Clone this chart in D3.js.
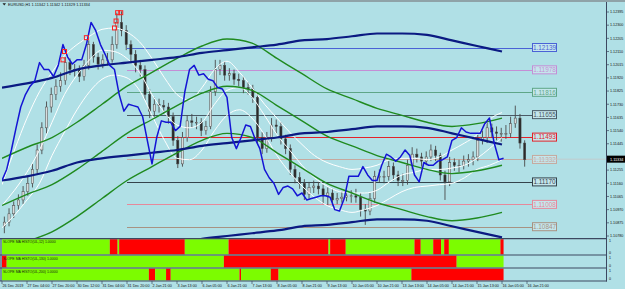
<!DOCTYPE html>
<html>
<head>
<meta charset="utf-8">
<script src="https://cdn.jsdelivr.net/npm/d3@7"></script>
<style>
  html, body { margin: 0; padding: 0; background: #b0e0e6; }
  svg { display: block; font-family: "Liberation Sans", Arial, sans-serif; }
</style>
</head>
<body>
<script>
const W = 625, H = 289;

// ---- data ----
// candles, one per 3 H1 bars, starting 26 Dec 2019 12:00
const candleOpen = [1.1085,1.1088,1.1094,1.1100,1.1104,1.1110,1.1116,1.1126,1.1140,1.1156,
1.1171,1.1180,1.1186,1.1190,1.1203,1.1198,1.1198,1.1193,1.1201,1.1216,
1.1207,1.1202,1.1205,1.1205,1.1216,1.1232,1.1226,1.1216,1.1209,1.1201,
1.1198,1.1180,1.1168,1.1173,1.1172,1.1171,1.1164,1.1147,1.1130,1.1149,
1.1161,1.1160,1.1160,1.1154,1.1157,1.1182,1.1198,1.1201,1.1194,1.1195,
1.1191,1.1190,1.1185,1.1184,1.1178,1.1149,1.1141,1.1149,1.1158,1.1157,
1.1148,1.1141,1.1126,1.1120,1.1116,1.1108,1.1113,1.1114,1.1112,1.1107,
1.1109,1.1104,1.1105,1.1106,1.1107,1.1107,1.1106,1.1097,1.1096,1.1105,
1.1121,1.1121,1.1121,1.1128,1.1122,1.1118,1.1118,1.1129,1.1137,1.1135,
1.1132,1.1135,1.1140,1.1136,1.1122,1.1117,1.1131,1.1129,1.1129,1.1132,
1.1133,1.1135,1.1147,1.1149,1.1156,1.1153,1.1152,1.1152,1.1152,1.1159,
1.1163,1.1145];
const candleHigh = [1.1092,1.1098,1.1103,1.1108,1.1114,1.1121,1.1130,1.1144,1.1160,1.1175,
1.1185,1.1191,1.1196,1.1207,1.1206,1.1202,1.1201,1.1205,1.1219,1.1218,
1.1210,1.1209,1.1210,1.1222,1.1239,1.1240,1.1230,1.1219,1.1212,1.1205,
1.1201,1.1184,1.1178,1.1177,1.1176,1.1174,1.1167,1.1150,1.1153,1.1165,
1.1166,1.1164,1.1163,1.1161,1.1186,1.1205,1.1205,1.1204,1.1199,1.1198,
1.1195,1.1193,1.1189,1.1187,1.1181,1.1153,1.1153,1.1163,1.1162,1.1160,
1.1151,1.1144,1.1129,1.1124,1.1119,1.1117,1.1118,1.1117,1.1115,1.1113,
1.1112,1.1109,1.1110,1.1111,1.1111,1.1112,1.1109,1.1101,1.1109,1.1125,
1.1126,1.1125,1.1132,1.1131,1.1125,1.1123,1.1133,1.1142,1.1141,1.1138,
1.1139,1.1144,1.1143,1.1138,1.1125,1.1135,1.1134,1.1133,1.1136,1.1137,
1.1139,1.1151,1.1154,1.1160,1.1159,1.1157,1.1156,1.1158,1.1164,1.1172,
1.1166,1.1147];
const candleLow = [1.1080,1.1085,1.1091,1.1097,1.1101,1.1107,1.1113,1.1123,1.1137,1.1152,
1.1167,1.1176,1.1182,1.1187,1.1194,1.1193,1.1189,1.1190,1.1198,1.1203,
1.1198,1.1199,1.1201,1.1203,1.1213,1.1222,1.1212,1.1204,1.1196,1.1193,
1.1176,1.1163,1.1164,1.1167,1.1166,1.1159,1.1143,1.1127,1.1128,1.1146,
1.1156,1.1155,1.1150,1.1151,1.1155,1.1179,1.1194,1.1190,1.1190,1.1187,
1.1186,1.1181,1.1180,1.1174,1.1145,1.1137,1.1138,1.1146,1.1152,1.1144,
1.1137,1.1122,1.1116,1.1112,1.1104,1.1105,1.1109,1.1108,1.1101,1.1100,
1.1100,1.1101,1.1102,1.1103,1.1102,1.1102,1.1092,1.1086,1.1093,1.1102,
1.1117,1.1116,1.1118,1.1118,1.1114,1.1114,1.1115,1.1126,1.1131,1.1128,
1.1129,1.1132,1.1132,1.1118,1.1104,1.1114,1.1125,1.1124,1.1126,1.1128,
1.1129,1.1132,1.1144,1.1145,1.1149,1.1147,1.1146,1.1148,1.1149,1.1156,
1.1141,1.1128];
const candleClose = [1.1088,1.1094,1.1100,1.1104,1.1110,1.1116,1.1126,1.1140,1.1156,1.1171,
1.1180,1.1186,1.1190,1.1203,1.1198,1.1198,1.1193,1.1201,1.1216,1.1207,
1.1202,1.1205,1.1205,1.1216,1.1232,1.1226,1.1216,1.1209,1.1201,1.1198,
1.1180,1.1168,1.1173,1.1172,1.1171,1.1164,1.1147,1.1130,1.1149,1.1161,
1.1160,1.1160,1.1154,1.1157,1.1182,1.1198,1.1201,1.1194,1.1195,1.1191,
1.1190,1.1185,1.1184,1.1178,1.1149,1.1141,1.1149,1.1158,1.1157,1.1148,
1.1141,1.1126,1.1120,1.1116,1.1108,1.1113,1.1114,1.1112,1.1107,1.1109,
1.1104,1.1105,1.1106,1.1107,1.1107,1.1106,1.1097,1.1096,1.1105,1.1121,
1.1121,1.1121,1.1128,1.1122,1.1118,1.1118,1.1129,1.1137,1.1135,1.1132,
1.1135,1.1140,1.1136,1.1122,1.1117,1.1131,1.1129,1.1129,1.1132,1.1133,
1.1135,1.1147,1.1149,1.1156,1.1153,1.1152,1.1152,1.1152,1.1159,1.1163,
1.1145,1.1133];

// blue line, every 3 bars
const bluePrice = [1.1118,1.1126,1.1140,1.1156,1.1171,1.1180,1.1186,1.1190,1.1203,1.1198,
1.1198,1.1193,1.1201,1.1216,1.1207,1.1202,1.1205,1.1205,1.1216,1.1232,
1.1226,1.1216,1.1209,1.1201,1.1198,1.1180,1.1168,1.1173,1.1172,1.1171,
1.1164,1.1147,1.1130,1.1149,1.1161,1.1160,1.1160,1.1154,1.1157,1.1182,
1.1198,1.1201,1.1194,1.1195,1.1191,1.1190,1.1185,1.1184,1.1178,1.1149,
1.1141,1.1149,1.1158,1.1157,1.1148,1.1141,1.1126,1.1120,1.1116,1.1108,
1.1113,1.1114,1.1112,1.1107,1.1109,1.1104,1.1105,1.1106,1.1107,1.1107,
1.1106,1.1097,1.1096,1.1105,1.1121,1.1121,1.1121,1.1128,1.1122,1.1118,
1.1118,1.1129,1.1137,1.1135,1.1132,1.1135,1.1140,1.1136,1.1122,1.1117,
1.1131,1.1129,1.1129,1.1132,1.1133,1.1135,1.1147,1.1149,1.1156,1.1153,
1.1152,1.1152,1.1152,1.1159,1.1163,1.1145,1.1133,1.1134];

// navy envelope, every 16 bars
const navyUpper = [1.1185,1.1188,1.1192,1.1198,1.1201,1.1203,1.1205,1.1207,1.1210,1.1212,1.1214,1.1216,1.1219,1.1220,1.1222,1.1224,1.1224,1.1223,1.1219,1.1215,1.1211];
const navyMid   = [1.1118,1.1121,1.1125,1.1131,1.1134,1.1136,1.1138,1.1140,1.1143,1.1145,1.1147,1.1149,1.1152,1.1153,1.1155,1.1157,1.1157,1.1156,1.1152,1.1148,1.1144];
const navyLower = [1.1051,1.1054,1.1058,1.1064,1.1067,1.1069,1.1071,1.1073,1.1076,1.1078,1.1080,1.1082,1.1085,1.1086,1.1088,1.1090,1.1090,1.1089,1.1085,1.1081,1.1077];

// green envelope, every 16 bars
const greenUpper = [1.1134,1.1142,1.1149,1.1160,1.1173,1.1186,1.1196,1.1206,1.1215,1.1220,1.1217,1.1206,1.1195,1.1184,1.1177,1.1170,1.1165,1.1160,1.1157,1.1159,1.1163];
const greenMid   = [1.1100,1.1108,1.1115,1.1126,1.1139,1.1152,1.1162,1.1172,1.1181,1.1186,1.1183,1.1172,1.1161,1.1150,1.1143,1.1136,1.1131,1.1126,1.1123,1.1125,1.1129];
const greenLower = [1.1066,1.1074,1.1081,1.1092,1.1105,1.1118,1.1128,1.1138,1.1147,1.1152,1.1149,1.1138,1.1127,1.1116,1.1109,1.1102,1.1097,1.1092,1.1089,1.1091,1.1095];

// white bands, every 8 bars
const bandUpper = [1.1115,1.1140,1.1163,1.1182,1.1196,1.1208,1.1216,1.1222,1.1227,1.1228,
1.1225,1.1218,1.1206,1.1192,1.1180,1.1176,1.1185,1.1198,1.1204,1.1196,
1.1185,1.1173,1.1163,1.1153,1.1144,1.1136,1.1131,1.1128,1.1126,1.1127,
1.1129,1.1133,1.1134,1.1134,1.1133,1.1135,1.1140,1.1145,1.1151,1.1162,1.1167];
const bandMid = [1.1100,1.1111,1.1124,1.1140,1.1160,1.1180,1.1194,1.1205,1.1212,1.1211,
1.1206,1.1196,1.1180,1.1167,1.1158,1.1156,1.1160,1.1173,1.1183,1.1185,
1.1178,1.1165,1.1151,1.1140,1.1129,1.1120,1.1114,1.1110,1.1109,1.1109,
1.1111,1.1117,1.1122,1.1124,1.1126,1.1126,1.1127,1.1129,1.1134,1.1141,1.1149];
const bandLower = [1.1084,1.1093,1.1104,1.1116,1.1136,1.1153,1.1169,1.1182,1.1191,1.1194,
1.1192,1.1183,1.1165,1.1147,1.1134,1.1133,1.1140,1.1154,1.1165,1.1169,
1.1163,1.1151,1.1136,1.1124,1.1114,1.1106,1.1100,1.1097,1.1095,1.1097,
1.1100,1.1105,1.1110,1.1113,1.1114,1.1115,1.1116,1.1120,1.1126,1.1129,1.1133];

// red square signals: bar index, price
const signalBars = [39, 40, 54, 72, 73, 74, 76];
const signalPrices = [1.1205, 1.1211, 1.1221, 1.1228, 1.1233, 1.1239, 1.1239];

// horizontal levels
const levelPrices = [1.12139, 1.11978, 1.11816, 1.11655, 1.11493, 1.11332, 1.11170, 1.11008, 1.10847];
const levelColors = ["#4a62d6", "#c48ed6", "#5ea687", "#4a5a66", "#e4222a", "#c6a89e", "#34434c", "#e6899a", "#a89282"];

// 1.11350 sits under the last-price box, so it is not listed
const priceTicks = [1.12395,1.12300,1.12205,1.12110,1.12015,1.11920,1.11825,1.11730,1.11635,1.11540,1.11445,1.11255,1.11160,1.11065,1.10970,1.10875,1.10780];
const lastPrice = 1.11334;

const timeLabels = ["26 Dec 2019","27 Dec 04:00","27 Dec 20:00","30 Dec 12:00","31 Dec 04:00","31 Dec 20:00","2 Jan 21:00","3 Jan 13:00","6 Jan 05:00","6 Jan 21:00","7 Jan 13:00","8 Jan 05:00","8 Jan 21:00","9 Jan 13:00","10 Jan 05:00","10 Jan 21:00","13 Jan 13:00","14 Jan 05:00","14 Jan 21:00","15 Jan 13:00","16 Jan 05:00","16 Jan 21:00"];

// histogram panels: [number of bars, 1 = up (green) / 0 = down (red)]
const slope12 = [[69,1],[5,0],[1,1],[42,0],[28,1],[64,0],[1,1],[10,0],[44,1],[4,0],[8,1],[5,0],[2,1],[3,0],[33,1],[2,0]];
const slope130 = [[3,0],[139,1],[149,0],[30,1]];
const slope200 = [[94,1],[4,0],[7,1],[3,0],[44,1],[1,0],[19,1],[5,0],[85,1],[59,0]];
const panelNames = ["SLOPE MA HISTO(UL,12) 1.0000", "SLOPE MA HISTO(UL,130) 1.0000", "SLOPE MA HISTO(UL,200) 1.0000"];

// ---- chart ----
const svg = d3.select("body").append("svg")
    .attr("width", W)
    .attr("height", H);

svg.append("rect").attr("width", W).attr("height", H).attr("fill", "#b0e0e6");
svg.append("rect").attr("width", W).attr("height", 2).attr("fill", "#8fa3a8");

// bar index -> px, price -> px
const x = d3.scaleLinear().domain([0, 400]).range([2, 2 + 400 * 1.5625]);
const y = d3.scaleLinear().domain([1.10780, 1.12395]).range([236, 12]);

svg.append("clipPath").attr("id", "mainClip")
  .append("rect").attr("x", 2).attr("y", 2).attr("width", 604).attr("height", 236);
const main = svg.append("g").attr("clip-path", "url(#mainClip)");

// level lines
levelPrices.forEach((p, i) => {
  const yy = Math.round(y(p)) + 0.5;
  main.append("line")
      .attr("x1", x(80)).attr("x2", 532)
      .attr("y1", yy).attr("y2", yy)
      .attr("stroke", levelColors[i]).attr("stroke-width", 1);
});

// candles
const candleData = candleOpen.map((o, i) => ({
  bar: 3 * i + 1.5, o, h: candleHigh[i], l: candleLow[i], c: candleClose[i]
}));
main.selectAll("line.wick").data(candleData).enter().append("line")
    .attr("class", "wick")
    .attr("x1", d => x(d.bar)).attr("x2", d => x(d.bar))
    .attr("y1", d => y(d.h)).attr("y2", d => y(d.l))
    .attr("stroke", "#4a4a4a").attr("stroke-width", 0.9);
main.selectAll("rect.body").data(candleData).enter().append("rect")
    .attr("class", "body")
    .attr("x", d => x(d.bar) - 1.1)
    .attr("width", 2.2)
    .attr("y", d => y(Math.max(d.o, d.c)))
    .attr("height", d => Math.max(0.8, Math.abs(y(d.o) - y(d.c))))
    .attr("fill", d => d.c >= d.o ? "#d8dcdc" : "#2a2a2a")
    .attr("stroke", "#4a4a4a").attr("stroke-width", 0.5);

function drawSeries(values, step, color, width, curve) {
  const line = d3.line()
      .x((d, i) => x(i * step))
      .y(d => y(d))
      .curve(curve);
  main.append("path")
      .datum(values)
      .attr("d", line)
      .attr("fill", "none")
      .attr("stroke", color)
      .attr("stroke-width", width)
      .attr("stroke-linejoin", "round");
}

// white bands
[bandUpper, bandMid, bandLower].forEach(s => drawSeries(s, 8, "#ffffff", 1, d3.curveMonotoneX));
// green envelope
[greenUpper, greenMid, greenLower].forEach(s => drawSeries(s, 16, "#1f8a1f", 1.4, d3.curveMonotoneX));
// navy envelope
[navyUpper, navyMid, navyLower].forEach(s => drawSeries(s, 16, "#0b1a82", 2.2, d3.curveMonotoneX));
// blue line
drawSeries(bluePrice, 3, "#1414d4", 1.5, d3.curveLinear);

// red squares
main.selectAll("rect.sig").data(signalBars).enter().append("rect")
    .attr("class", "sig")
    .attr("x", d => x(d) - 2).attr("y", (d, i) => y(signalPrices[i]) - 2)
    .attr("width", 4).attr("height", 4)
    .attr("fill", "none").attr("stroke", "#ff2020").attr("stroke-width", 1);

// level labels
levelPrices.forEach((p, i) => {
  const yy = y(p);
  svg.append("rect")
      .attr("x", 532.5).attr("y", yy - 4)
      .attr("width", 24).attr("height", 8)
      .attr("fill", "#c4e6ec")
      .attr("stroke", levelColors[i]).attr("stroke-width", 1);
  svg.append("text")
      .attr("x", 544.5).attr("y", yy + 2.3)
      .attr("text-anchor", "middle")
      .attr("font-size", 6.4)
      .attr("fill", levelColors[i])
      .text(d3.format(".5f")(p));
});

// last price line
svg.append("line")
    .attr("x1", 527).attr("x2", 606)
    .attr("y1", y(lastPrice)).attr("y2", y(lastPrice))
    .attr("stroke", "#c8c8c8").attr("stroke-width", 0.8);

// price axis
const axisColor = "#3c4860";
svg.append("line")
    .attr("x1", 606.5).attr("x2", 606.5).attr("y1", 2).attr("y2", 281.5)
    .attr("stroke", axisColor).attr("stroke-width", 1);
const yTicks = svg.append("g");
priceTicks.forEach(p => {
  yTicks.append("line")
      .attr("x1", 606.5).attr("x2", 609).attr("y1", y(p)).attr("y2", y(p))
      .attr("stroke", axisColor).attr("stroke-width", 0.7);
  yTicks.append("text")
      .attr("x", 610).attr("y", y(p) + 1.3)
      .attr("font-size", 3.7).attr("fill", "#111")
      .text(d3.format(".5f")(p));
});
svg.append("rect")
    .attr("x", 607).attr("y", y(lastPrice) - 3.5)
    .attr("width", 18).attr("height", 7).attr("fill", "#000");
svg.append("text")
    .attr("x", 610).attr("y", y(lastPrice) + 1.4)
    .attr("font-size", 3.8).attr("fill", "#fff")
    .text(d3.format(".5f")(lastPrice));

// title
svg.append("path").attr("d", "M2.5,3.2 L6,3.2 L4.25,5.6 Z").attr("fill", "#222");
svg.append("text")
    .attr("x", 8).attr("y", 5.8)
    .attr("font-size", 3.9).attr("fill", "#111")
    .text("EURUSD,H1  1.11342 1.11342 1.11329 1.11334");

// indicator panels
const panels = [
  { top: 239.2, bottom: 254.4, runs: slope12 },
  { top: 255.6, bottom: 267.4, runs: slope130 },
  { top: 268.6, bottom: 280.4, runs: slope200 }
];
panels.forEach((pn, k) => {
  let start = 0;
  const segs = pn.runs.map(([len, up]) => {
    const s = { start, end: start + len, up };
    start += len;
    return s;
  });
  svg.append("g").selectAll("rect").data(segs).enter().append("rect")
      .attr("x", d => x(d.start))
      .attr("width", d => x(d.end) - x(d.start))
      .attr("y", pn.top)
      .attr("height", pn.bottom - pn.top)
      .attr("fill", d => d.up ? "#7cfc00" : "#ff0000");
  svg.append("text")
      .attr("x", 3).attr("y", pn.top + 4)
      .attr("font-size", 3.5).attr("fill", "#1a1a1a")
      .text(panelNames[k]);
  svg.append("text")
      .attr("x", 609).attr("y", pn.top + 3)
      .attr("font-size", 3.6).attr("fill", "#111").text("1");
  svg.append("text")
      .attr("x", 609).attr("y", pn.bottom - 0.5)
      .attr("font-size", 3.6).attr("fill", "#111").text("0");
});

// separators
[238.6, 255, 268, 281].forEach(v => {
  svg.append("line")
      .attr("x1", 0).attr("x2", 607).attr("y1", v).attr("y2", v)
      .attr("stroke", axisColor).attr("stroke-width", 1.2);
});
svg.append("line").attr("x1", 1).attr("x2", 1).attr("y1", 238).attr("y2", 281)
    .attr("stroke", axisColor).attr("stroke-width", 1);

// time axis
const tAxis = svg.append("g");
timeLabels.forEach((t, k) => {
  const xx = x(16 * k);
  tAxis.append("line")
      .attr("x1", xx).attr("x2", xx).attr("y1", 281).attr("y2", 284)
      .attr("stroke", axisColor).attr("stroke-width", 0.7);
  tAxis.append("text")
      .attr("x", xx + 0.5).attr("y", 286.8)
      .attr("font-size", 3.7).attr("fill", "#111")
      .text(t);
});
</script>
</body>
</html>
